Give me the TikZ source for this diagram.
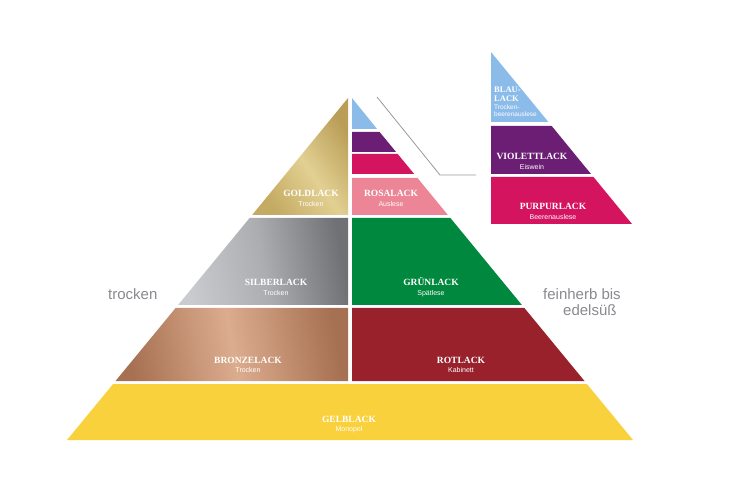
\documentclass[tikz,border=0pt]{standalone}
\usepackage{fontspec}
\newfontfamily\lackfont{Liberation Serif}
\newfontfamily\infofont{Liberation Sans}
\definecolor{goldlight}{RGB}{226,208,146}
\definecolor{golddark}{RGB}{196,170,98}
\definecolor{goldmid}{RGB}{186,158,88}
\definecolor{silverlight}{RGB}{202,203,206}
\definecolor{silvermid}{RGB}{172,173,176}
\definecolor{silverdark}{RGB}{112,113,116}
\definecolor{bronzelight}{RGB}{220,172,142}
\definecolor{bronzedark}{RGB}{166,112,82}
\definecolor{blaulack}{RGB}{139,187,233}
\definecolor{violettlack}{RGB}{108,30,116}
\definecolor{purpurlack}{RGB}{213,20,95}
\definecolor{rosalack}{RGB}{236,134,150}
\definecolor{gruenlack}{RGB}{0,136,62}
\definecolor{rotlack}{RGB}{152,33,43}
\definecolor{gelblack}{RGB}{249,209,61}
\definecolor{sidegray}{RGB}{136,138,143}
\tikzset{
  lack name/.style={
    text=white,
    inner sep=0pt,
    anchor=base,
    font=\lackfont\bfseries\fontsize{9.5}{10}\selectfont
  },
  lack sub/.style={
    text=white,
    inner sep=0pt,
    anchor=base,
    font=\infofont\fontsize{7}{8}\selectfont
  },
  side text/.style={
    text=sidegray,
    inner sep=0pt,
    anchor=base west,
    font=\infofont\fontsize{15}{18}\selectfont
  },
  zoom line/.style={
    draw=gray!80,
    line width=0.8pt
  }
}
\begin{document}
\begin{tikzpicture}[x=1pt,y=-1pt]
\useasboundingbox (0,0) rectangle (732,500);
% main pyramid, left half
\shade[left color=golddark, right color=goldmid, middle color=goldlight, shading angle=125]
(348,98) -- (348,215) -- (252.1,215) -- cycle;
\shade[left color=silverlight, right color=silverdark, middle color=silvermid, shading angle=100]
(249.6,218) -- (348,218) -- (348,305) -- (178.1,305) -- cycle;
\shade[left color=bronzedark, right color=bronzedark, middle color=bronzelight, shading angle=100]
(175.6,308) -- (348,308) -- (348,381) -- (115.5,381) -- cycle;
% main pyramid, right half
\fill[blaulack] (352,98) -- (377.1,129) -- (352,129) -- cycle;
\fill[violettlack] (352,132) -- (379.6,132) -- (396.1,152) -- (352,152) -- cycle;
\fill[purpurlack] (352,154) -- (397.7,154) -- (414.2,174) -- (352,174) -- cycle;
\fill[rosalack] (352,178) -- (417.5,178) -- (447.9,215) -- (352,215) -- cycle;
\fill[gruenlack] (352,218) -- (450.4,218) -- (521.9,305) -- (352,305) -- cycle;
\fill[rotlack] (352,308) -- (524.4,308) -- (584.5,381) -- (352,381) -- cycle;
% base
\fill[gelblack] (113.1,384) -- (586.9,384) -- (633,440) -- (67,440) -- cycle;
% small pyramid
\fill[blaulack] (491,52) -- (548.4,122) -- (491,122) -- cycle;
\fill[violettlack] (491,126) -- (551.7,126) -- (591,174) -- (491,174) -- cycle;
\fill[purpurlack] (491,177) -- (593.5,177) -- (632,224) -- (491,224) -- cycle;
% zoom connector
\coordinate (zoom top) at (377,97);
\coordinate (zoom bend) at (440,175);
\coordinate (zoom end) at (476,175);
\draw[zoom line] (zoom top) -- (zoom bend) -- (zoom end);
% labels
\foreach \n/\x/\y/\lbl/\sublbl in {
  gold/311/197/GOLDLACK/Trocken,
  rosa/391/197/ROSALACK/Auslese,
  silber/276/286/SILBERLACK/Trocken,
  gruen/431/286/GRÜNLACK/Spätlese,
  bronze/248/363/BRONZELACK/Trocken,
  rot/461/363/ROTLACK/Kabinett,
  gelb/349/422/GELBLACK/Monopol,
  violett/532/160/VIOLETTLACK/Eiswein,
  purpur/553/210/PURPURLACK/Beerenauslese}
{
  \node[lack name] (\n) at (\x,\y) {\lbl};
  \node[lack sub] (\n-sub) at ([yshift=-9.5pt]\n.base) {\sublbl};
}
\node[lack name, anchor=base west, font=\lackfont\bfseries\fontsize{8.5}{9}\selectfont] (blau) at (494,93) {BLAU-};
\node[lack name, anchor=base west, font=\lackfont\bfseries\fontsize{8.5}{9}\selectfont] (blau-2) at (494,102) {LACK};
\node[lack sub, anchor=base west, font=\infofont\fontsize{6.5}{7}\selectfont] (blau-sub) at (494,109.5) {Trocken-};
\node[lack sub, anchor=base west, font=\infofont\fontsize{6.5}{7}\selectfont] (blau-sub-2) at (494,117) {beerenauslese};
% side texts
\node[side text] (dry) at (108,299) {trocken};
\node[side text] (sweet) at (543,300) {feinherb bis};
\node[side text] (sweet-2) at (563,316) {edelsüß};
\end{tikzpicture}
\end{document}
